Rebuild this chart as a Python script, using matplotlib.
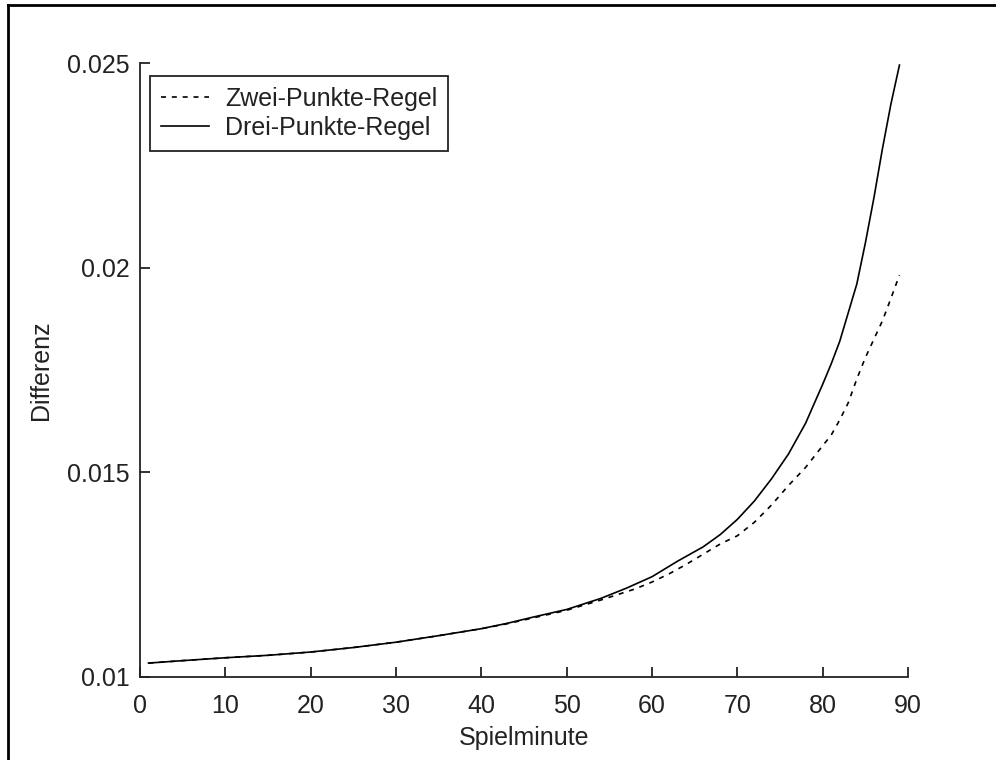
import matplotlib
matplotlib.use("Agg")
import matplotlib.pyplot as plt
from matplotlib.lines import Line2D

plt.rcParams['font.family'] = ['Liberation Sans', 'DejaVu Sans']

# minute positions of the sampled points
minutes_drei = [1, 5, 10, 15, 20, 25, 30, 35, 40, 43, 46, 50, 54, 57, 60, 63, 66,
                68, 70, 72, 74, 76, 78, 80, 81, 82, 83, 84, 85, 86, 87, 88, 89]
diff_drei = [0.01034, 0.01040, 0.01047, 0.01053, 0.01061, 0.01072, 0.01085,
             0.01101, 0.01118, 0.01131, 0.01146, 0.01165, 0.01192, 0.01217,
             0.01245, 0.01283, 0.01318, 0.01348, 0.01385, 0.01430, 0.01484,
             0.01545, 0.01620, 0.01715, 0.01765, 0.01820, 0.01890, 0.01960,
             0.02060, 0.02170, 0.02290, 0.02400, 0.02495]

minutes_zwei = [1, 5, 10, 15, 20, 25, 30, 35, 40, 43, 46, 50, 54, 58, 60, 62, 64,
                66, 68, 70, 72, 74, 76, 78, 80, 81, 82, 83, 84, 85, 86, 87, 88, 89]
diff_zwei = [0.01034, 0.01040, 0.01047, 0.01053, 0.01061, 0.01072, 0.01085,
             0.01101, 0.01118, 0.01130, 0.01144, 0.01163, 0.01188, 0.01215,
             0.01232, 0.01252, 0.01275, 0.01300, 0.01325, 0.01345, 0.01378,
             0.01420, 0.01468, 0.01512, 0.01565, 0.01591, 0.01628, 0.01670,
             0.01728, 0.01780, 0.01825, 0.01870, 0.01925, 0.01982]

x_ticks = [0, 10, 20, 30, 40, 50, 60, 70, 80, 90]
y_ticks = [0.01, 0.015, 0.02, 0.025]
y_tick_labels = ['0.01', '0.015', '0.02', '0.025']

fig = plt.figure(figsize=(9.96, 7.6), dpi=100)
ax = fig.add_axes([140 / 996, 83 / 760, 768 / 996, 614 / 760])

ax.plot(minutes_zwei, diff_zwei, color='black', lw=1.2, ls=(0, (3, 3.5)),
        label='Zwei-Punkte-Regel')
ax.plot(minutes_drei, diff_drei, color='black', lw=1.2, label='Drei-Punkte-Regel')

ax.set_xlim(0, 90)
ax.set_ylim(0.01, 0.025)
ax.set_xticks(x_ticks)
ax.set_yticks(y_ticks)
ax.set_yticklabels(y_tick_labels)
ax.tick_params(direction='in', length=7, width=1.3, labelsize=18,
               colors='#222222')
ax.tick_params(axis='x', pad=12)
ax.tick_params(axis='y', pad=7.5)
for side in ('top', 'right'):
    ax.spines[side].set_visible(False)
for side in ('left', 'bottom'):
    ax.spines[side].set_linewidth(1.3)
    ax.spines[side].set_color('#222222')

ax.set_xlabel('Spielminute', fontsize=18, labelpad=6, color='#222222')
ax.set_ylabel('Differenz', fontsize=18, labelpad=10, color='#222222')

leg = ax.legend(loc='upper left', bbox_to_anchor=(0.013, 0.979),
                borderaxespad=0, fontsize=18, handlelength=1.9,
                handletextpad=0.65, borderpad=0.45, labelspacing=0.2,
                fancybox=False, framealpha=1, edgecolor='#222222')
leg.get_frame().set_linewidth(1.3)
for txt in leg.get_texts():
    txt.set_color('#222222')

# outer frame of the figure window
fig.add_artist(Line2D([8 / 996, 8 / 996], [0, 1 - 5 / 760], color='black',
                      lw=2, transform=fig.transFigure))
fig.add_artist(Line2D([8 / 996, 1], [1 - 5 / 760, 1 - 5 / 760], color='black',
                      lw=2, transform=fig.transFigure))

fig.savefig('out.png', dpi=100)
